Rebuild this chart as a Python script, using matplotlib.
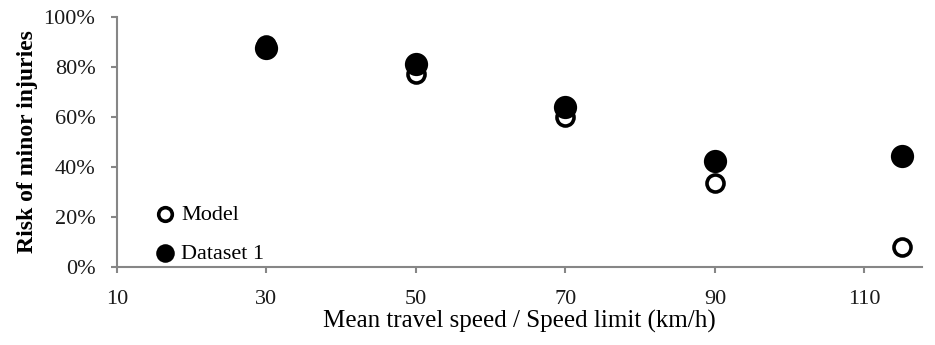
import matplotlib
matplotlib.use("Agg")
import matplotlib.pyplot as plt
from matplotlib.ticker import PercentFormatter

speeds = [30, 50, 70, 90, 115]
model = [0.888, 0.772, 0.600, 0.336, 0.080]
dataset1 = [0.876, 0.812, 0.640, 0.424, 0.444]
xticks = [10, 30, 50, 70, 90, 110]
yticks = [0, 0.2, 0.4, 0.6, 0.8, 1.0]

plt.rcParams['font.family'] = ['Liberation Serif', 'DejaVu Serif']

fig = plt.figure(figsize=(9.35, 3.45), dpi=100)
ax = fig.add_axes([0.1251, 0.2261, 0.861, 0.7246])

ax.scatter(speeds, model, s=150, facecolor='white', edgecolor='black', linewidth=2.6, label='Model', zorder=3)
ax.scatter(speeds, dataset1, s=280, facecolor='black', edgecolor='black', linewidth=0, label='Dataset 1', zorder=4)

ax.set_xlim(10, 117.7)
ax.set_ylim(0, 1.0)
ax.set_xticks(xticks)
ax.set_yticks(yticks)
ax.yaxis.set_major_formatter(PercentFormatter(1.0, decimals=0))

for s in ['top', 'right']:
    ax.spines[s].set_visible(False)
for s in ['left', 'bottom']:
    ax.spines[s].set_color('#868686')
    ax.spines[s].set_linewidth(1.5)
ax.tick_params(axis='both', direction='out', length=4.5, width=1.5, color='#868686',
               labelsize=16, labelcolor='#1a1a1a')
ax.tick_params(axis='y', pad=11)
ax.tick_params(axis='x', pad=12)

ax.set_xlabel('Mean travel speed / Speed limit (km/h)', fontsize=18, labelpad=1)
ax.set_ylabel('Risk of minor injuries', fontsize=17, fontweight='bold', labelpad=4)

leg = ax.legend(loc='lower left', bbox_to_anchor=(0.016, -0.04), frameon=False, fontsize=16,
                handletextpad=-0.3, labelspacing=0.82, borderaxespad=0.2,
                markerscale=0.8)

fig.savefig('out.png', dpi=100)
